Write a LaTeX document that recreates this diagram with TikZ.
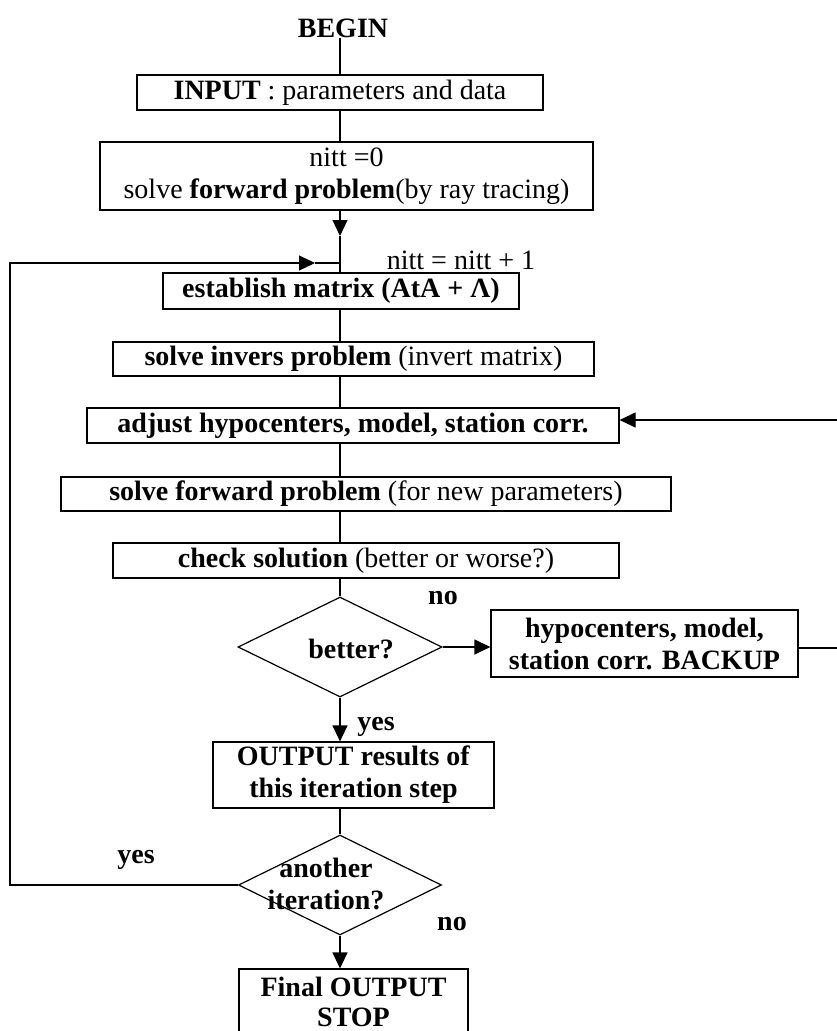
\documentclass[tikz,border=0pt]{standalone}
\usepackage{fontspec}
\setmainfont{Liberation Serif}
\usetikzlibrary{shapes.geometric,arrows.meta}
\begin{document}
\begin{tikzpicture}[x=1pt,y=-1pt,
  font=\fontsize{28}{32}\selectfont,
  box/.style={draw, line width=1.2pt, inner sep=0pt, align=center},
  dia/.style={draw, diamond, line width=1.2pt, inner sep=0pt},
  lbl/.style={inner sep=0pt, align=center},
  conn/.style={line width=1.2pt},
  arr/.style={line width=1.2pt, -{Triangle[length=16pt,width=15pt]}},
]
\path[fill=white,use as bounding box] (0,0) rectangle (837,1031);

\coordinate (spine) at (340,0);
\node[lbl] (begin) at (343,28) {\textbf{BEGIN}};
\node[box, minimum width=406pt, minimum height=35pt] (input) at (340,92.5) {\textbf{INPUT} : parameters and data};
\node[box, minimum width=493pt, minimum height=68pt] (init) at (346.5,176) {nitt =0\\ solve \textbf{forward problem}(by ray tracing)};
\coordinate (join) at (340,263);
\node[lbl] (nittlbl) at (461,260) {nitt = nitt + 1};
\node[box, minimum width=356pt, minimum height=36pt] (estab) at (341,291) {\textbf{establish matrix (AtA + Λ)}};
\node[box, minimum width=481pt, minimum height=34pt] (invers) at (353.5,359) {\textbf{solve invers problem} (invert matrix)};
\node[box, minimum width=532pt, minimum height=35pt] (adjust) at (353,425.5) {\textbf{adjust hypocenters, model, station corr.}};
\node[box, minimum width=610pt, minimum height=34pt] (fwd) at (366,494) {\textbf{solve forward problem} (for new parameters)};
\node[box, minimum width=506pt, minimum height=35pt] (check) at (366,560.5) {\textbf{check solution} (better or worse?)};
\node[dia, minimum width=204pt, minimum height=100pt] (better) at (340,647) {};
\node[lbl] (bettertxt) at (351,649) {\textbf{better?}};
\node[box, minimum width=307pt, minimum height=67pt] (backup) at (644.5,643.5) {\textbf{hypocenters, model,}\\ \textbf{station corr. BACKUP}};
\node[lbl] (no1) at (443,598) {\textbf{no}};
\node[lbl] (yes1) at (376,727) {\textbf{yes}};
\node[box, minimum width=281pt, minimum height=66pt] (output) at (353.5,775) {\textbf{OUTPUT results of}\\ \textbf{this iteration step}};
\node[dia, minimum width=203pt, minimum height=100pt] (another) at (340,885) {};
\node[lbl] (anothertxt) at (326,884) {\textbf{another}\\ \textbf{iteration?}};
\node[lbl] (yes2) at (136,860) {\textbf{yes}};
\node[lbl] (no2) at (452,924) {\textbf{no}};
\node[box, minimum width=229pt, minimum height=66pt, font=\fontsize{28}{30}\selectfont] (final) at (353.5,1002) {\textbf{Final OUTPUT}\\ \textbf{STOP}};

\coordinate (ah1) at (340,236);
\coordinate (lc1) at (10,885);
\coordinate (lc2) at (10,263);
\coordinate (ah2) at (315,263);
\coordinate (rc1) at (845,648);
\coordinate (rc2) at (845,420);
\coordinate (fb1) at (239,1045);
\coordinate (fb2) at (468,1045);

\draw[conn] (input.north |- begin.south) -- (input.north);
\draw[conn] (input.south) -- (init.north -| spine);
\draw[arr] (init.south -| spine) -- (ah1);
\draw[conn] (ah1) -- (estab.north -| spine);
\draw[conn] (estab.south -| spine) -- (invers.north -| spine);
\draw[conn] (invers.south -| spine) -- (adjust.north -| spine);
\draw[conn] (adjust.south -| spine) -- (fwd.north -| spine);
\draw[conn] (fwd.south -| spine) -- (check.north -| spine);
\draw[conn] (check.south -| spine) -- (better.north);
\draw[arr] (better.east) -- (backup.west |- better.east);
\draw[arr] (better.south) -- (output.north -| spine);
\draw[conn] (output.south -| spine) -- (another.north);
\draw[arr] (another.south) -- (final.north -| spine);
\draw[arr] (another.west) -- (lc1) -- (lc2) -- (ah2);
\draw[conn] (ah2) -- (join);
\draw[arr] (backup.east |- rc1) -- (rc1) -- (rc2) -- (adjust.east |- rc2);
\end{tikzpicture}
\end{document}
